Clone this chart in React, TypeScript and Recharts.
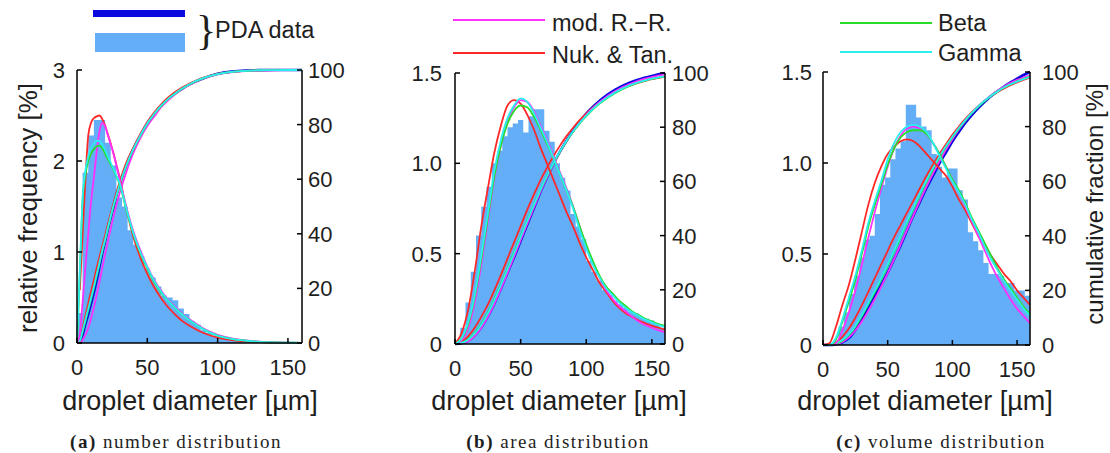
import { ComposedChart, Line, Area, XAxis, YAxis } from 'recharts'

// sample positions of the fitted curves [µm]
const X_A = [0, 2, 4, 6, 8, 10, 12, 14, 16, 18, 20, 22, 24, 26, 28, 30, 35, 40, 45, 50, 55, 60, 65, 70, 75, 80, 90, 100, 110, 120, 130, 140, 150, 160]
const X_BC = [0, 5, 10, 15, 20, 25, 30, 35, 40, 45, 50, 55, 60, 65, 70, 75, 80, 85, 90, 95, 100, 105, 110, 115, 120, 125, 130, 135, 140, 145, 150, 155, 160]
const BIN = 4

// PDA histograms, 4 µm bins [%]
const HIST_A = [0.33, 1.87, 2.28, 2.45, 2.45, 2.2, 1.95, 1.6, 1.5, 1.24, 1.08, 0.95, 0.82, 0.72, 0.62, 0.52, 0.5, 0.47, 0.38, 0.32, 0.24, 0.2, 0.14, 0.11, 0.08, 0.06, 0.05, 0.04, 0.03, 0.02, 0.02, 0.01, 0.01, 0.01, 0.005, 0.005, 0, 0, 0, 0]
const HIST_B = [0.02, 0.09, 0.23, 0.4, 0.6, 0.76, 0.87, 1.0, 1.07, 1.15, 1.2, 1.22, 1.24, 1.17, 1.26, 1.3, 1.3, 1.18, 1.12, 1.0, 0.92, 0.85, 0.72, 0.65, 0.58, 0.46, 0.4, 0.35, 0.3, 0.27, 0.24, 0.22, 0.2, 0.18, 0.17, 0.15, 0.14, 0.13, 0.11, 0.09]
const HIST_C = [0, 0, 0.02, 0.1, 0.18, 0.28, 0.38, 0.48, 0.58, 0.6, 0.72, 0.88, 0.92, 1.02, 1.08, 1.12, 1.32, 1.32, 1.25, 1.2, 1.18, 1.05, 0.98, 0.92, 0.97, 0.97, 0.85, 0.8, 0.62, 0.57, 0.52, 0.45, 0.39, 0.39, 0.38, 0.34, 0.34, 0.3, 0.3, 0.27]

// (a) number distribution
const PDF_A_RR = [0, 0.1, 0.45, 0.84, 1.2, 1.55, 1.82, 2.1, 2.33, 2.42, 2.38, 2.28, 2.18, 2.08, 1.95, 1.82, 1.5, 1.23, 1.02, 0.84, 0.69, 0.57, 0.47, 0.39, 0.32, 0.26, 0.16, 0.09, 0.05, 0.028, 0.015, 0.008, 0.004, 0.002]
const PDF_A_NT = [null, 0.58, 1.2, 1.8, 2.28, 2.42, 2.47, 2.49, 2.5, 2.46, 2.39, 2.29, 2.19, 2.08, 1.96, 1.84, 1.48, 1.17, 0.94, 0.76, 0.61, 0.49, 0.39, 0.31, 0.24, 0.19, 0.11, 0.06, 0.032, 0.017, 0.009, 0.005, 0.002, 0.001]
const PDF_A_BETA = [0, 0.75, 1.57, 1.85, 2.0, 2.08, 2.13, 2.16, 2.17, 2.14, 2.08, 2.02, 1.96, 1.9, 1.83, 1.76, 1.47, 1.2, 0.99, 0.82, 0.67, 0.55, 0.46, 0.38, 0.31, 0.25, 0.15, 0.08, 0.045, 0.025, 0.013, 0.007, 0.004, 0.002]
const PDF_A_GAMMA = [0, 0.8, 1.6, 1.9, 2.05, 2.14, 2.19, 2.22, 2.22, 2.18, 2.12, 2.05, 1.98, 1.91, 1.84, 1.77, 1.48, 1.21, 1.0, 0.83, 0.68, 0.56, 0.46, 0.38, 0.31, 0.25, 0.15, 0.08, 0.045, 0.025, 0.013, 0.007, 0.004, 0.002]
const CDF_A_PDA = [0, 1, 3, 7, 10.5, 14.5, 18.5, 23, 28, 33, 37.5, 42, 46, 50, 54, 57.5, 65, 71, 76, 80.5, 84, 87, 89.5, 91.5, 93.2, 94.7, 97, 98.6, 99.4, 99.8, 99.95, 100, 100, 100]
const CDF_A_RR = [0, 0.2, 1, 3, 5.5, 9, 13, 17.5, 22.5, 27.5, 32.5, 37.3, 42, 46.3, 50.5, 54.3, 62.5, 69.5, 75, 79.5, 83, 86.5, 89, 91.2, 93, 94.5, 96.9, 98.4, 99.2, 99.6, 99.8, 99.9, 99.95, 100]
const CDF_A_NT = [0, 1.5, 5.5, 10, 14.5, 19, 23, 27.5, 31.5, 35.5, 39.5, 43.5, 47.5, 51.3, 55, 58.5, 66, 71.5, 76.5, 81, 84.5, 87.5, 90, 92, 93.7, 95, 97.2, 98.6, 99.3, 99.7, 99.9, 99.95, 100, 100]
const CDF_A_BETA = [0, 0.8, 4, 8, 12, 16, 20, 24.5, 29, 33.5, 37.6, 41.9, 46.1, 50.1, 53.7, 57.2, 64.8, 70.8, 75.8, 80.3, 83.9, 86.9, 89.4, 91.4, 93.2, 94.7, 97, 98.5, 99.3, 99.7, 99.9, 99.95, 100, 100]
const CDF_A_GAMMA = [0, 1, 4.5, 8.5, 12.5, 16.5, 20.5, 25, 29.5, 34, 38, 42.3, 46.5, 50.5, 54, 57.5, 65, 71, 76, 80.5, 84, 87, 89.5, 91.5, 93.3, 94.8, 97.1, 98.5, 99.3, 99.7, 99.9, 99.95, 100, 100]

// (b) area distribution
const PDF_B_RR = [0, 0.02, 0.09, 0.23, 0.44, 0.68, 0.92, 1.1, 1.23, 1.31, 1.35, 1.34, 1.29, 1.21, 1.13, 1.04, 0.95, 0.86, 0.76, 0.65, 0.54, 0.45, 0.37, 0.3, 0.25, 0.21, 0.18, 0.15, 0.125, 0.105, 0.09, 0.075, 0.065]
const PDF_B_NT = [0, 0.06, 0.19, 0.4, 0.65, 0.86, 1.06, 1.21, 1.32, 1.35, 1.33, 1.27, 1.19, 1.09, 1.0, 0.91, 0.82, 0.73, 0.65, 0.56, 0.48, 0.41, 0.34, 0.29, 0.24, 0.2, 0.17, 0.15, 0.13, 0.115, 0.1, 0.09, 0.08]
const PDF_B_BETA = [0, 0.03, 0.11, 0.26, 0.47, 0.7, 0.93, 1.1, 1.22, 1.29, 1.32, 1.31, 1.26, 1.19, 1.11, 1.03, 0.94, 0.85, 0.76, 0.65, 0.55, 0.46, 0.38, 0.32, 0.28, 0.24, 0.21, 0.18, 0.16, 0.14, 0.125, 0.11, 0.1]
const PDF_B_GAMMA = [0, 0.03, 0.12, 0.27, 0.49, 0.72, 0.96, 1.13, 1.25, 1.32, 1.36, 1.34, 1.28, 1.2, 1.12, 1.03, 0.94, 0.85, 0.75, 0.63, 0.53, 0.44, 0.37, 0.31, 0.27, 0.23, 0.2, 0.175, 0.155, 0.135, 0.12, 0.105, 0.095]
const CDF_B_PDA = [0, 0.3, 1.2, 3.2, 6.2, 10.2, 15, 20.5, 26.3, 32, 38, 44, 50, 56, 61.5, 66.5, 71, 75, 78.7, 82, 85, 87.5, 89.7, 91.6, 93.2, 94.6, 95.8, 96.8, 97.6, 98.3, 98.9, 99.5, 100]
const CDF_B_RR = [0, 0.2, 1, 3, 6, 10, 14.8, 20.3, 26.2, 32.2, 38.3, 44.3, 50.2, 56, 61.4, 66.3, 70.8, 74.8, 78.4, 81.6, 84.5, 87, 89.2, 91.1, 92.7, 94.1, 95.3, 96.3, 97.2, 97.9, 98.5, 99, 99.4]
const CDF_B_NT = [0, 0.8, 2.8, 6, 10, 14.5, 19.8, 25.5, 31.5, 37.5, 43.5, 49.5, 55, 60.3, 65, 69.3, 73.2, 76.7, 79.8, 82.6, 85, 87.2, 89.1, 90.8, 92.3, 93.6, 94.7, 95.6, 96.4, 97.1, 97.7, 98.2, 98.6]
const CDF_B_BETA = [0, 0.5, 1.8, 4.1, 7.4, 11.6, 16.6, 22.2, 28, 33.9, 39.8, 45.6, 51.3, 56.8, 61.9, 66.6, 70.9, 74.8, 78.3, 81.4, 84.1, 86.5, 88.6, 90.4, 92, 93.4, 94.6, 95.6, 96.5, 97.2, 97.8, 98.3, 98.7]
const CDF_B_GAMMA = [0, 0.4, 1.6, 3.8, 7, 11.2, 16.2, 21.8, 27.6, 33.5, 39.5, 45.4, 51.2, 56.8, 62, 66.8, 71.1, 75, 78.5, 81.6, 84.3, 86.7, 88.8, 90.6, 92.2, 93.6, 94.8, 95.8, 96.6, 97.3, 97.9, 98.4, 98.8]

// (c) volume distribution
const PDF_C_RR = [0, 0, 0.01, 0.08, 0.18, 0.3, 0.44, 0.59, 0.73, 0.86, 0.98, 1.08, 1.15, 1.19, 1.2, 1.19, 1.16, 1.11, 1.05, 0.98, 0.91, 0.84, 0.76, 0.68, 0.6, 0.52, 0.44, 0.37, 0.31, 0.25, 0.2, 0.16, 0.12]
const PDF_C_NT = [0, 0.01, 0.1, 0.22, 0.33, 0.47, 0.62, 0.77, 0.89, 0.98, 1.05, 1.09, 1.12, 1.13, 1.12, 1.09, 1.05, 1.01, 0.97, 0.93, 0.87, 0.8, 0.74, 0.67, 0.6, 0.54, 0.49, 0.44, 0.39, 0.35, 0.3, 0.26, 0.22]
const PDF_C_BETA = [0, 0, 0.03, 0.13, 0.24, 0.36, 0.5, 0.65, 0.77, 0.88, 0.99, 1.08, 1.14, 1.17, 1.18, 1.18, 1.16, 1.11, 1.05, 0.98, 0.91, 0.85, 0.78, 0.7, 0.63, 0.56, 0.49, 0.42, 0.36, 0.31, 0.26, 0.21, 0.17]
const PDF_C_GAMMA = [0, 0, 0.04, 0.14, 0.26, 0.38, 0.52, 0.67, 0.79, 0.9, 1.02, 1.11, 1.17, 1.2, 1.21, 1.2, 1.17, 1.11, 1.04, 0.97, 0.9, 0.84, 0.77, 0.69, 0.62, 0.54, 0.47, 0.41, 0.35, 0.3, 0.25, 0.2, 0.16]
const CDF_C_PDA = [0, 0, 0.3, 1, 2.5, 5.5, 9.5, 14, 18, 22, 26.5, 31.5, 36.5, 42, 47.5, 52.5, 57.5, 62, 66.5, 70.5, 74.5, 78, 81.3, 84.2, 86.8, 89.1, 91.2, 93, 94.7, 96.2, 97.6, 98.9, 100]
const CDF_C_RR = [0, 0, 0.3, 1.1, 2.8, 5.3, 8.6, 12.5, 16.8, 21.4, 26.3, 31.5, 36.8, 42.2, 47.6, 52.9, 58, 62.8, 67.3, 71.5, 75.4, 78.9, 82.1, 84.9, 87.4, 89.6, 91.5, 93.2, 94.7, 96, 97.1, 98, 98.8]
const CDF_C_NT = [0, 0.2, 1, 3, 6, 10, 14.5, 19.5, 24.5, 29.5, 34.5, 39.5, 44, 48.5, 53, 57.5, 62, 66, 70, 73.5, 77, 80, 82.8, 85.3, 87.5, 89.5, 91.2, 92.7, 94, 95.2, 96.2, 97.1, 97.9]
const CDF_C_BETA = [0, 0.1, 0.5, 1.6, 3.7, 6.6, 10.5, 14.8, 19.3, 24, 29, 34.2, 39.5, 44.8, 50, 55, 59.8, 64.3, 68.6, 72.5, 76, 79.2, 82.2, 84.9, 87.3, 89.4, 91.3, 92.9, 94.3, 95.5, 96.6, 97.5, 98.3]
const CDF_C_GAMMA = [0, 0.1, 0.6, 1.8, 4, 7, 11, 15.3, 19.8, 24.5, 29.5, 34.7, 40, 45.3, 50.5, 55.5, 60.3, 64.8, 69, 72.8, 76.3, 79.5, 82.4, 85, 87.4, 89.5, 91.3, 92.9, 94.3, 95.5, 96.5, 97.4, 98.2]

const X_TICKS = [0, 50, 100, 150]
const RIGHT_TICKS = [0, 20, 40, 60, 80, 100]

const C_PDA = '#0a0ae0'
const C_HIST = '#64aef8'
const C_RR = '#ff30ff'
const C_NT = '#ff2828'
const C_BETA = '#28dc28'
const C_GAMMA = '#2aeeee'
const TXT = '#1e1e1e'
const SANS = 'Liberation Sans, Arial, sans-serif'
const SERIF = 'Liberation Serif, Times New Roman, serif'

const pts = (xs: number[], ys: (number | null)[]) => xs.map((x, i) => ({ x, y: ys[i] }))
const steps = (h: number[]) => [...h.map((v, i) => ({ x: i * BIN, y: v })), { x: h.length * BIN, y: h[h.length - 1] }]

const AXIS = { stroke: '#000', strokeWidth: 1.5 }
const WL = 60
const WR = 60
const MT = 15
const HX = 45

type Curve = { name: string; ys: (number | null)[]; color: string; w: number }

function Panel(props: {
  l: number; r: number; t: number; b: number
  xs: number[]; hist: number[]; leftMax: number; leftTicks: number[]
  fmt: (v: number) => string; gapL: number; gapR: number
  pdfs: Curve[]; cdfs: Curve[]
}) {
  const { l, r, t, b, xs, hist, leftMax, leftTicks, fmt, gapL, gapR, pdfs, cdfs } = props
  const width = r - l + WL + WR
  const height = b - t + MT + HX
  return (
    <div style={{ position: 'absolute', left: l - WL, top: t - MT }}>
      <ComposedChart width={width} height={height} margin={{ top: MT, right: 0, bottom: 0, left: 0 }} style={{ overflow: 'visible' }}>
        <XAxis
          type="number" dataKey="x" domain={[0, 160]} ticks={X_TICKS} height={HX}
          tickSize={0} tickMargin={0} axisLine={AXIS} tickLine={false}
          tick={(p: any) => (
            <g>
              <line x1={p.x} x2={p.x} y1={p.y} y2={p.y - 5} stroke="#000" strokeWidth={1.5} />
              <text x={p.x} y={p.y + 32} textAnchor="middle" fontSize={22} fontFamily={SANS} fill={TXT}>{p.payload.value}</text>
            </g>
          )}
        />
        <YAxis
          yAxisId="l" domain={[0, leftMax]} ticks={leftTicks} width={WL}
          tickSize={0} tickMargin={0} axisLine={AXIS} tickLine={false}
          tick={(p: any) => (
            <g>
              <line x1={p.x} x2={p.x + 5} y1={p.y} y2={p.y} stroke="#000" strokeWidth={1.5} />
              <text x={p.x - gapL} y={p.y + 8} textAnchor="end" fontSize={22} fontFamily={SANS} fill={TXT}>{fmt(p.payload.value)}</text>
            </g>
          )}
        />
        <YAxis
          yAxisId="r" orientation="right" domain={[0, 100]} ticks={RIGHT_TICKS} width={WR}
          tickSize={0} tickMargin={0} axisLine={AXIS} tickLine={false}
          tick={(p: any) => (
            <g>
              <line x1={p.x} x2={p.x - 5} y1={p.y} y2={p.y} stroke="#000" strokeWidth={1.5} />
              <text x={p.x + gapR} y={p.y + 8} textAnchor="start" fontSize={22} fontFamily={SANS} fill={TXT}>{p.payload.value}</text>
            </g>
          )}
        />
        <Area
          yAxisId="l" data={steps(hist)} dataKey="y" type="stepAfter"
          stroke="none" fill={C_HIST} fillOpacity={1} isAnimationActive={false} dot={false} activeDot={false}
        />
        {cdfs.map((c) => (
          <Line
            key={'cdf' + c.name} yAxisId="r" data={pts(xs, c.ys)} dataKey="y" type="monotone"
            stroke={c.color} strokeWidth={c.w} dot={false} activeDot={false} isAnimationActive={false}
          />
        ))}
        {pdfs.map((c) => (
          <Line
            key={'pdf' + c.name} yAxisId="l" data={pts(xs, c.ys)} dataKey="y" type="monotone"
            stroke={c.color} strokeWidth={c.w} dot={false} activeDot={false} isAnimationActive={false}
          />
        ))}
      </ComposedChart>
    </div>
  )
}

const fmt1 = (v: number) => (v === 0 ? '0' : v.toFixed(1))
const fmt0 = (v: number) => String(v)

export default function App() {
  return (
    <div style={{ position: 'absolute', left: 0, top: 0, width: 1110, height: 453, background: '#fff' }}>
      <Panel
        l={77} r={302} t={70} b={343} xs={X_A} hist={HIST_A} leftMax={3} leftTicks={[0, 1, 2, 3]} fmt={fmt0} gapL={12} gapR={6}
        cdfs={[
          { name: 'pda', ys: CDF_A_PDA, color: C_PDA, w: 2.6 },
          { name: 'nt', ys: CDF_A_NT, color: C_NT, w: 1.8 },
          { name: 'rr', ys: CDF_A_RR, color: C_RR, w: 1.8 },
          { name: 'beta', ys: CDF_A_BETA, color: C_BETA, w: 1.8 },
          { name: 'gamma', ys: CDF_A_GAMMA, color: C_GAMMA, w: 1.8 },
        ]}
        pdfs={[
          { name: 'nt', ys: PDF_A_NT, color: C_NT, w: 1.8 },
          { name: 'rr', ys: PDF_A_RR, color: C_RR, w: 1.8 },
          { name: 'beta', ys: PDF_A_BETA, color: C_BETA, w: 1.8 },
          { name: 'gamma', ys: PDF_A_GAMMA, color: C_GAMMA, w: 1.8 },
        ]}
      />
      <Panel
        l={455} r={665} t={73} b={344} xs={X_BC} hist={HIST_B} leftMax={1.5} leftTicks={[0, 0.5, 1, 1.5]} fmt={fmt1} gapL={13} gapR={7}
        cdfs={[
          { name: 'pda', ys: CDF_B_PDA, color: C_PDA, w: 2.6 },
          { name: 'nt', ys: CDF_B_NT, color: C_NT, w: 1.8 },
          { name: 'rr', ys: CDF_B_RR, color: C_RR, w: 1.8 },
          { name: 'beta', ys: CDF_B_BETA, color: C_BETA, w: 1.8 },
          { name: 'gamma', ys: CDF_B_GAMMA, color: C_GAMMA, w: 1.8 },
        ]}
        pdfs={[
          { name: 'nt', ys: PDF_B_NT, color: C_NT, w: 1.8 },
          { name: 'rr', ys: PDF_B_RR, color: C_RR, w: 1.8 },
          { name: 'beta', ys: PDF_B_BETA, color: C_BETA, w: 1.8 },
          { name: 'gamma', ys: PDF_B_GAMMA, color: C_GAMMA, w: 1.8 },
        ]}
      />
      <Panel
        l={823} r={1030} t={72} b={345} xs={X_BC} hist={HIST_C} leftMax={1.5} leftTicks={[0, 0.5, 1, 1.5]} fmt={fmt1} gapL={11} gapR={12}
        cdfs={[
          { name: 'pda', ys: CDF_C_PDA, color: C_PDA, w: 2.6 },
          { name: 'nt', ys: CDF_C_NT, color: C_NT, w: 1.8 },
          { name: 'rr', ys: CDF_C_RR, color: C_RR, w: 1.8 },
          { name: 'beta', ys: CDF_C_BETA, color: C_BETA, w: 1.8 },
          { name: 'gamma', ys: CDF_C_GAMMA, color: C_GAMMA, w: 1.8 },
        ]}
        pdfs={[
          { name: 'nt', ys: PDF_C_NT, color: C_NT, w: 1.8 },
          { name: 'rr', ys: PDF_C_RR, color: C_RR, w: 1.8 },
          { name: 'beta', ys: PDF_C_BETA, color: C_BETA, w: 1.8 },
          { name: 'gamma', ys: PDF_C_GAMMA, color: C_GAMMA, w: 1.8 },
        ]}
      />
      <svg width={1110} height={453} style={{ position: 'absolute', left: 0, top: 0, pointerEvents: 'none' }}>
        {/* legend */}
        <line x1={93} x2={185} y1={13.5} y2={13.5} stroke={C_PDA} strokeWidth={7} />
        <rect x={95} y={33} width={90} height={19} fill={C_HIST} />
        <text x={196} y={44} fontSize={42} fontFamily={SERIF} fill={TXT}>{'}'}</text>
        <text x={215} y={38} fontSize={23.5} fontFamily={SANS} fill={TXT}>PDA data</text>
        <line x1={453} x2={545} y1={20} y2={20} stroke={C_RR} strokeWidth={2} />
        <text x={552} y={30.5} fontSize={23.5} fontFamily={SANS} fill={TXT}>mod. R.−R.</text>
        <line x1={453} x2={545} y1={53} y2={53} stroke={C_NT} strokeWidth={2} />
        <text x={552} y={63} fontSize={23.5} fontFamily={SANS} fill={TXT}>Nuk. &amp; Tan.</text>
        <line x1={840} x2={932} y1={23} y2={23} stroke={C_BETA} strokeWidth={2} />
        <text x={938} y={30.5} fontSize={23.5} fontFamily={SANS} fill={TXT}>Beta</text>
        <line x1={840} x2={932} y1={52} y2={52} stroke={C_GAMMA} strokeWidth={2} />
        <text x={938} y={61} fontSize={23.5} fontFamily={SANS} fill={TXT}>Gamma</text>
        {/* axis titles */}
        <text x={28} y={208} dy="0.35em" transform="rotate(-90 28 208)" textAnchor="middle" fontSize={26} fontFamily={SANS} fill={TXT}>relative frequency [%]</text>
        <text x={1095} y={204} dy="0.35em" transform="rotate(-90 1095 204)" textAnchor="middle" fontSize={24} fontFamily={SANS} fill={TXT}>cumulative fraction [%]</text>
        <text x={190} y={410} textAnchor="middle" fontSize={27} fontFamily={SANS} fill={TXT}>droplet diameter [µm]</text>
        <text x={559} y={410} textAnchor="middle" fontSize={27} fontFamily={SANS} fill={TXT}>droplet diameter [µm]</text>
        <text x={925} y={410} textAnchor="middle" fontSize={27} fontFamily={SANS} fill={TXT}>droplet diameter [µm]</text>
        {/* captions */}
        <text x={176} y={448} textAnchor="middle" fontSize={19} letterSpacing={1.5} fontFamily={SERIF} fill={TXT}>
          <tspan fontWeight="bold">(a)</tspan> number distribution
        </text>
        <text x={558} y={448} textAnchor="middle" fontSize={19} letterSpacing={1.5} fontFamily={SERIF} fill={TXT}>
          <tspan fontWeight="bold">(b)</tspan> area distribution
        </text>
        <text x={941} y={448} textAnchor="middle" fontSize={19} letterSpacing={1.5} fontFamily={SERIF} fill={TXT}>
          <tspan fontWeight="bold">(c)</tspan> volume distribution
        </text>
      </svg>
    </div>
  )
}
